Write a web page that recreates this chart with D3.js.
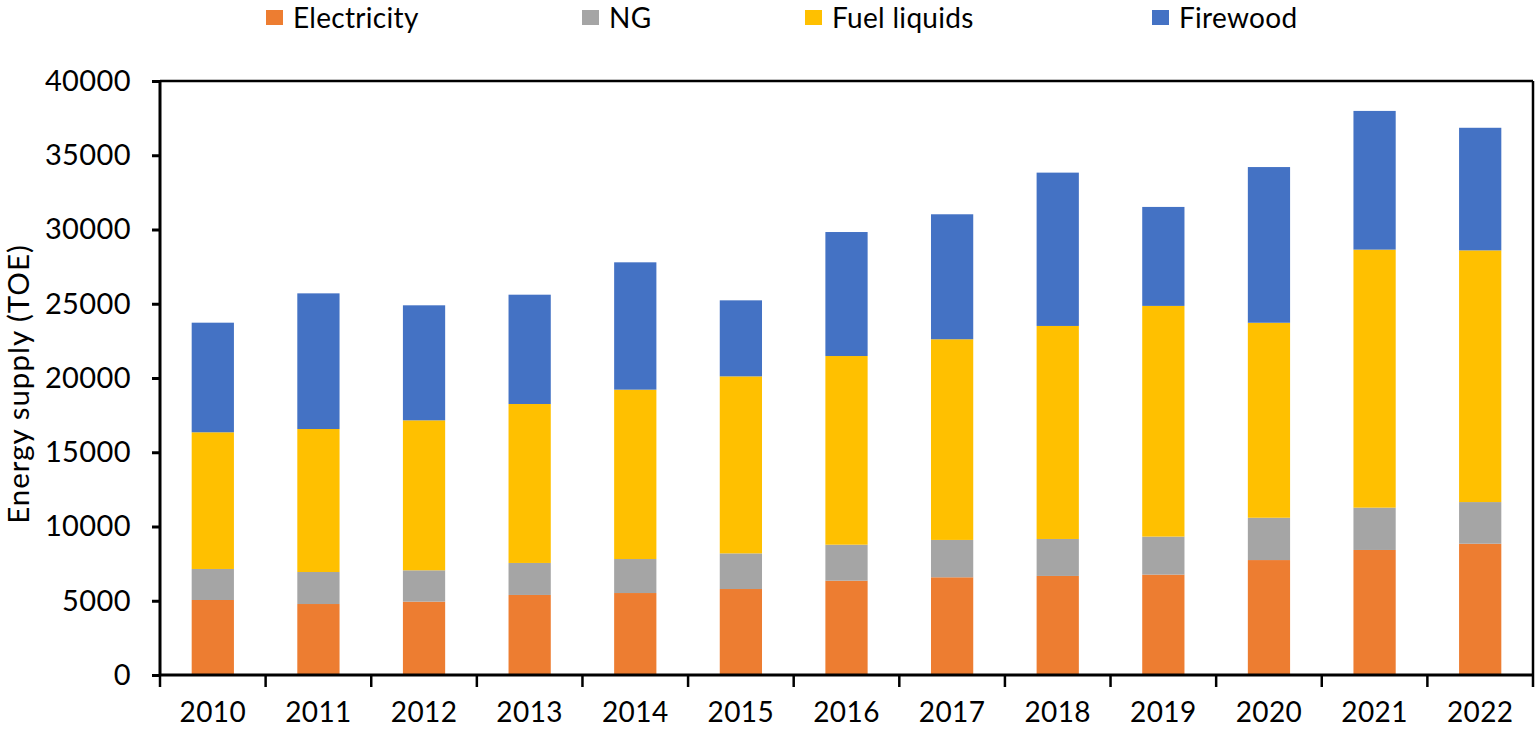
<!DOCTYPE html>
<html>
<head>
<meta charset="utf-8">
<script src="https://cdn.jsdelivr.net/npm/d3@7"></script>
<style>
  body { margin: 0; background: #fff; overflow: hidden; }
  svg { display: block; }
  text { font-family: Lato, "Open Sans", sans-serif; fill: #000; }
</style>
</head>
<body>
<svg id="chart" width="1537" height="729"></svg>
<script>
// values (TOE)
var years = ['2010', '2011', '2012', '2013', '2014', '2015', '2016', '2017', '2018', '2019', '2020', '2021', '2022'];
var electricity = [5050, 4780, 4940, 5390, 5520, 5790, 6350, 6580, 6670, 6760, 7740, 8420, 8840];
var ng = [2090, 2155, 2110, 2155, 2290, 2400, 2425, 2515, 2490, 2560, 2850, 2850, 2805];
var fuelLiquids = [9205, 9630, 10100, 10705, 11405, 11920, 12705, 13515, 14345, 15535, 13130, 17375, 16950];
var firewood = [7380, 9135, 7745, 7360, 8575, 5120, 8350, 8415, 10325, 6665, 10485, 9340, 8255];
var yTicks = [0, 5000, 10000, 15000, 20000, 25000, 30000, 35000, 40000];

var seriesNames = ['Electricity', 'NG', 'Fuel liquids', 'Firewood'];
var seriesColors = ['#ED7D31', '#A5A5A5', '#FFC000', '#4472C4'];

(function () {
    'use strict';

    var svg = d3.select('#chart'),
        margin = {top: 81, right: 4, bottom: 54, left: 160},
        width = +svg.attr('width') - margin.left - margin.right,
        height = +svg.attr('height') - margin.top - margin.bottom,
        g = svg.append('g').attr('transform', 'translate(' + margin.left + ',' + margin.top + ')');

    var rows = years.map(function (y, i) {
        return {year: y, Electricity: electricity[i], NG: ng[i], 'Fuel liquids': fuelLiquids[i], Firewood: firewood[i]};
    });

    var stack = d3.stack().keys(seriesNames)(rows);

    // category band (for ticks) and bar band
    var x = d3.scaleBand().domain(years).range([0, width]).padding(0);
    var xBar = d3.scaleBand().domain(years).range([0, width]).paddingInner(0.6).paddingOuter(0.3);

    var y = d3.scaleLinear().domain([0, 40000]).range([height, 0]);

    var color = d3.scaleOrdinal().domain(seriesNames).range(seriesColors);

    // bars
    g.selectAll('g.series')
        .data(stack)
        .enter().append('g')
        .attr('class', 'series')
        .attr('fill', function (d) { return color(d.key); })
        .selectAll('rect')
        .data(function (d) { return d; })
        .enter().append('rect')
        .attr('x', function (d) { return xBar(d.data.year); })
        .attr('width', xBar.bandwidth())
        .attr('y', function (d) { return y(d[1]); })
        .attr('height', function (d) { return y(d[0]) - y(d[1]); });

    // frame top / right
    g.append('line')
        .attr('x1', 0).attr('x2', width).attr('y1', 0).attr('y2', 0)
        .attr('stroke', '#000').attr('stroke-width', 2.5);
    g.append('line')
        .attr('x1', width).attr('x2', width).attr('y1', 0).attr('y2', height)
        .attr('stroke', '#000').attr('stroke-width', 2.5);

    // y axis
    var yAxis = g.append('g')
        .call(d3.axisLeft(y).tickValues(yTicks).tickSize(8).tickPadding(21).tickFormat(d3.format('d')));
    yAxis.selectAll('path, line').attr('stroke', '#000').attr('stroke-width', 3);
    yAxis.select('.domain').attr('d', 'M0,' + height + 'V0');
    yAxis.selectAll('text')
        .style('font-size', '29px')
        .style('letter-spacing', '0.4px')
        .attr('fill', '#000');

    // x axis: ticks on category boundaries
    var xAxis = g.append('g')
        .attr('transform', 'translate(0,' + height + ')');
    xAxis.append('path')
        .attr('d', 'M0,0H' + width)
        .attr('stroke', '#000').attr('stroke-width', 3);
    var bounds = years.map(function (d) { return x(d); }).concat([width]);
    xAxis.selectAll('line.tick')
        .data(bounds)
        .enter().append('line')
        .attr('class', 'tick')
        .attr('x1', function (d) { return d; })
        .attr('x2', function (d) { return d; })
        .attr('y1', 0).attr('y2', 12)
        .attr('stroke', '#000').attr('stroke-width', 2.5);
    xAxis.selectAll('text.lbl')
        .data(years)
        .enter().append('text')
        .attr('class', 'lbl')
        .attr('x', function (d) { return x(d) + x.bandwidth() / 2; })
        .attr('y', 47)
        .attr('text-anchor', 'middle')
        .style('font-size', '28px')
        .style('letter-spacing', '0.4px')
        .text(function (d) { return d; });

    // y title
    svg.append('text')
        .attr('transform', 'translate(29,384) rotate(-90)')
        .attr('text-anchor', 'middle')
        .style('font-size', '29.5px')
        .style('letter-spacing', '1px')
        .text('Energy supply (TOE)');

    // legend
    var legendX = [266, 582, 805, 1152];
    var legend = svg.append('g');
    var item = legend.selectAll('g')
        .data(seriesNames)
        .enter().append('g')
        .attr('transform', function (d, i) { return 'translate(' + legendX[i] + ',10)'; });
    item.append('rect')
        .attr('width', 17).attr('height', 15)
        .attr('fill', function (d) { return color(d); });
    item.append('text')
        .attr('x', 27)
        .attr('y', 18)
        .style('font-size', '28px')
        .style('letter-spacing', '0.3px')
        .text(function (d) { return d; });
})();
</script>
</body>
</html>
